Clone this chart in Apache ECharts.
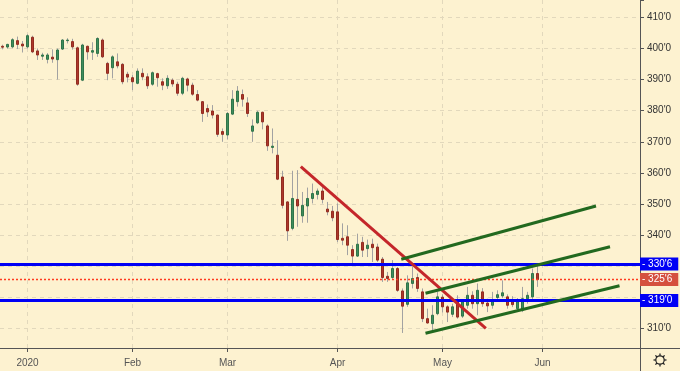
<!DOCTYPE html>
<html><head><meta charset="utf-8">
<script src="https://cdn.jsdelivr.net/npm/echarts@6/dist/echarts.min.js"></script>
<style>html,body{margin:0;padding:0;background:#fdf2d0}#c{width:680px;height:371px}</style>
</head><body><div id="c"></div><script>
// ---- data ----
const holidays = ['2019-12-25','2020-01-01','2020-01-20','2020-02-17','2020-04-10','2020-05-25'];
function buildTradingDays(y, m, d, count) {
  const out = [];
  const t = new Date(Date.UTC(y, m, d));
  while (out.length < count) {
    const s = t.toISOString().slice(0, 10);
    const wd = t.getUTCDay();
    if (wd !== 0 && wd !== 6 && holidays.indexOf(s) < 0) out.push(s);
    t.setUTCDate(t.getUTCDate() + 1);
  }
  return out;
}
const categories = buildTradingDays(2019, 11, 24, 128);

const opens = [400.7,400.45,400.5,402.5,401.4,400.5,403.6,399.2,397.5,396.5,
397.2,396.4,399.8,402.5,402.2,400.2,389.8,400.7,398.8,398.4,
402.7,395.2,393.8,395.7,394.9,391.7,390.6,388.8,392.0,390.9,
388.5,391.9,389.3,388.0,389.8,388.5,385.6,390.2,388.2,385.2,
382.9,380.7,379.9,378.6,373.3,372.2,378.9,382.9,385.2,382.5,
373.4,376.1,379.5,375.1,368.2,365.7,358.7,350.7,342.2,351.5,
346.2,349.4,351.8,353.1,354.2,348.4,347.7,347.5,339.0,339.5,
335.4,333.3,337.7,335.7,337.1,336.2,332.3,326.8,326.4,329.3,
322.1,317.8,324.5,326.4,321.8,313.2,311.6,314.8,320.1,317.0,
314.6,318.6,314.0,317.5,320.7,318.0,321.8,318.2,317.5,320.0,
320.5,320.2,318.6,316.4,315.9,319.6,320.2,327.7];
const closes = [400.4,401.3,402.8,401.3,400.8,404.1,398.9,397.9,397.9,397.9,
396.6,399.5,402.7,402.7,400.5,388.5,401.1,398.9,399.3,403.2,
397.3,392.0,397.3,394.4,389.3,390.8,389.3,392.7,390.9,388.0,
392.2,390.6,388.2,390.4,388.6,385.6,390.4,388.2,385.3,383.4,
379.1,379.6,378.6,372.4,372.4,379.1,383.7,386.3,383.7,379.1,
375.1,379.5,376.4,368.7,368.6,358.0,349.6,341.4,351.8,349.4,
349.6,351.8,353.4,354.2,351.5,347.5,345.6,338.6,338.4,336.8,
333.3,337.1,335.2,336.8,336.0,332.0,326.4,326.1,329.3,322.3,
317.2,324.7,326.1,322.9,313.2,311.8,314.3,320.2,317.0,315.3,
317.0,313.7,318.6,320.7,318.0,322.3,318.0,317.3,319.1,320.9,
321.5,317.5,317.7,318.6,319.6,320.7,327.7,325.75];
const lows = [399.7,399.9,400.0,399.8,398.7,400.0,398.5,396.3,396.3,395.2,
395.4,390.0,399.5,401.6,399.6,388.0,389.5,396.4,396.3,397.3,
396.9,389.8,390.4,393.6,388.5,389.1,386.6,388.5,389.8,387.0,
388.0,387.7,386.6,387.0,387.7,384.8,385.0,386.2,384.8,383.0,
376.4,378.0,377.5,371.6,370.0,370.8,378.6,381.3,381.3,378.0,
370.0,375.7,374.0,367.1,366.3,357.7,348.6,338.2,341.6,342.7,
344.0,344.0,350.2,351.5,350.2,346.4,344.5,337.8,336.8,333.6,
330.9,333.0,333.0,333.0,331.4,331.4,325.0,325.0,326.0,321.8,
308.6,317.0,322.9,321.8,312.1,311.6,309.5,314.3,315.2,312.1,
313.7,313.2,313.4,316.4,316.4,314.3,317.0,315.3,316.4,318.6,
319.8,316.4,316.9,315.6,315.3,318.0,319.1,323.4];
const highs = [401.2,401.5,403.3,403.8,402.4,404.6,404.1,400.0,398.6,398.5,
399.7,400.0,403.0,403.3,403.1,400.6,401.5,400.9,402.0,403.6,
403.2,395.7,397.8,398.4,395.3,392.5,391.4,393.6,393.6,392.0,
392.6,392.2,390.4,391.4,390.4,389.3,390.9,390.6,389.0,386.6,
383.1,382.0,381.8,378.8,374.3,379.6,386.6,387.9,386.8,384.3,
377.2,380.0,379.7,375.6,374.3,370.5,360.7,350.9,360.7,360.9,
353.9,355.3,356.6,355.0,355.5,350.7,349.4,350.2,343.8,343.2,
336.8,340.5,339.5,338.6,338.9,337.3,333.0,328.2,332.0,329.8,
322.9,327.1,330.0,327.7,322.9,316.4,317.5,321.8,321.0,317.5,
318.0,320.7,319.5,323.4,322.0,324.5,323.0,319.6,321.8,322.3,
325.5,321.0,320.4,319.8,323.4,321.8,329.3,330.2];

const monthStarts = ['2020-01-02','2020-02-03','2020-03-02','2020-04-01','2020-05-01','2020-06-01'];
const monthLabels = ['2020','Feb','Mar','Apr','May','Jun'];
const hiddenTickValues = [320, 330];
const blueLevels = [330.75, 319.0];
const blueLabels = ["330'6", "319'0"];
const lastPrice = 325.75;
const lastPriceLabel = "325'6";
// trend lines: [day index, price]
const trendRed = [[59.66, 362.07], [96.67, 310.1]];
const trendGreenTop = [[79.75, 332.26], [118.7, 349.4]];
const trendGreenMid = [[84.6, 321.34], [121.5, 336.3]];
const trendGreenLow = [[84.6, 308.5], [123.4, 323.78]];

// ---- chart ----
const FONT = 'Liberation Sans';
const wickData = opens.map((o, i) => [o, closes[i], lows[i], highs[i]]);
const bodyData = opens.map((o, i) => [o, closes[i], Math.min(o, closes[i]), Math.max(o, closes[i])]);
const isMonth = (idx, val) => monthStarts.indexOf(val) >= 0;
const BLUE = '#0000f5', LVRED = '#d5503e';

function boxLabel(text, bg) {
  return {show: true, position: 'end', distance: 0, formatter: '- ' + text,
    color: '#fff', backgroundColor: bg, padding: [1, 6, 1, 2],
    fontSize: 10, fontFamily: FONT, lineHeight: 11};
}

const chart = echarts.init(document.getElementById('c'), null, {renderer: 'canvas'});
const gearParts = [];
gearParts.push({type: 'circle', shape: {cx: 660, cy: 360, r: 4.2}, style: {fill: 'none', stroke: '#222', lineWidth: 1.2}});
for (let k = 0; k < 8; k++) {
  const a = k * Math.PI / 4;
  gearParts.push({type: 'line', shape: {x1: 660 + 4.2 * Math.cos(a), y1: 360 + 4.2 * Math.sin(a), x2: 660 + 6.5 * Math.cos(a), y2: 360 + 6.5 * Math.sin(a)}, style: {stroke: '#222', lineWidth: 1.3}});
}

function trendSeries(pts, color, extra) {
  return Object.assign({type: 'line', xAxisIndex: 1, data: pts, symbol: 'none', silent: true, z: 6,
    lineStyle: {color: color, width: 3}, animation: false}, extra || {});
}

chart.setOption({
  backgroundColor: '#fdf2d0',
  animation: false,
  grid: {left: -1.5, right: 40, top: 0, bottom: 23, containLabel: false},
  xAxis: [{
    type: 'category', data: categories, boundaryGap: true,
    axisLine: {show: true, onZero: false, lineStyle: {color: '#555'}},
    axisTick: {show: true, alignWithLabel: true, interval: isMonth, length: 4, lineStyle: {color: '#555'}},
    axisLabel: {interval: isMonth, color: '#555', fontSize: 10, fontFamily: FONT, margin: 10,
      formatter: v => { const k = monthStarts.indexOf(v); return k >= 0 ? monthLabels[k] : ''; }},
    splitLine: {show: false}
  }, {
    type: 'value', min: -0.5, max: 127.5, show: false,
    axisLine: {show: false, onZero: false}
  }],
  yAxis: {
    type: 'value', position: 'right', min: 303.77, max: 415.56, splitNumber: 11,
    minInterval: 10, maxInterval: 10,
    axisLine: {show: true, onZero: false, lineStyle: {color: '#555'}},
    axisTick: {show: true, length: 4, lineStyle: {color: '#555'}},
    axisLabel: {margin: 7, color: '#333', fontSize: 10, fontFamily: FONT,
      formatter: v => {
        const r = Math.round(v);
        if (Math.abs(v - r) > 1e-6 || r % 10 !== 0) return '';
        if (hiddenTickValues.indexOf(r) >= 0) return '';
        return r + "'0";
      }},
    splitLine: {show: true, showMinLine: false, showMaxLine: false, lineStyle: {color: '#e2d8bc', type: [4, 4], width: 1}}
  },
  series: [{
    type: 'candlestick', data: wickData, barWidth: 0.3, z: 2,
    itemStyle: {color: '#a2a2a2', color0: '#a2a2a2', borderColor: '#a2a2a2', borderColor0: '#a2a2a2', borderWidth: 1},
    markLine: {silent: true, symbol: 'none', z: 1, animation: false,
      label: {show: false},
      lineStyle: {color: '#e2d8bc', type: [4, 4], width: 1},
      data: monthStarts.map(d => ({xAxis: d}))}
  }, {
    type: 'candlestick', data: bodyData, barWidth: 3, z: 3,
    itemStyle: {color: '#3f8d5c', color0: '#ad382b', borderColor: '#2f744a', borderColor0: '#922c21', borderWidth: 1},
    markLine: {silent: true, symbol: 'none', z: 5, animation: false,
      lineStyle: {color: BLUE, width: 3, type: 'solid'},
      data: blueLevels.map((v, i) => ({yAxis: v, label: boxLabel(blueLabels[i], BLUE)}))}
  },
    trendSeries(trendRed, '#c4262a', {
      markLine: {silent: true, symbol: 'none', z: 4, animation: false,
        lineStyle: {color: '#ff3b1f', width: 1.3, type: [2, 2], opacity: 1},
        data: [{yAxis: lastPrice, label: boxLabel(lastPriceLabel, LVRED)}]}
    }),
    trendSeries(trendGreenTop, '#22691f'),
    trendSeries(trendGreenMid, '#22691f'),
    trendSeries(trendGreenLow, '#22691f')
  ],
  graphic: [
    {type: 'line', shape: {x1: 640, y1: 348.5, x2: 680, y2: 348.5}, style: {stroke: '#555', lineWidth: 1}},
    {type: 'line', shape: {x1: 640.5, y1: 348, x2: 640.5, y2: 371}, style: {stroke: '#555', lineWidth: 1}},
    {type: 'group', children: gearParts}
  ]
});
</script></body></html>
